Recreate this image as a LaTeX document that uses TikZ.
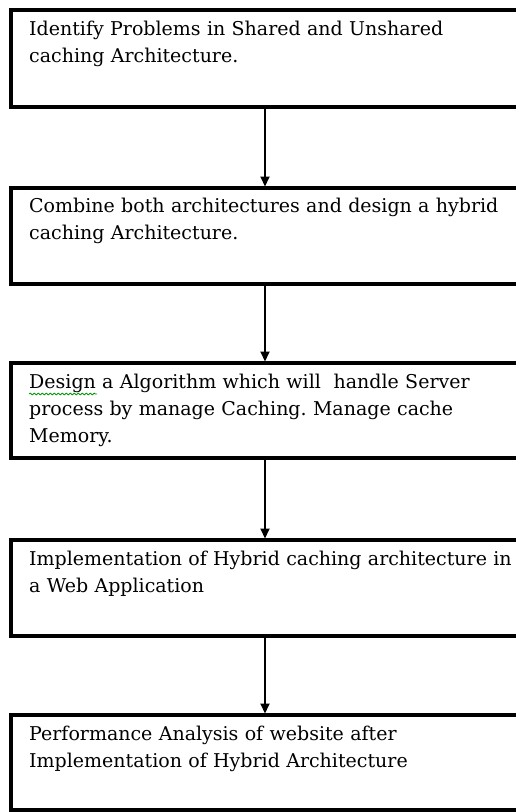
\documentclass[tikz,border=0pt]{standalone}
\usepackage{fontspec}
\setmainfont{DejaVu Serif}
\usetikzlibrary{arrows.meta,decorations.pathmorphing}
\frenchspacing

\tikzset{
  stepbox/.style={draw, line width=3.5pt, outer sep=0pt, inner sep=0pt,
    minimum width=508pt, minimum height=#1, anchor=north west},
  steptext/.style={anchor=base west, text width=530pt, align=left, inner sep=0pt,
    font=\fontsize{19}{27}\selectfont},
  flow/.style={-{Triangle[length=10pt,width=9pt]}, line width=1.8pt, shorten >=1.5pt},
  spellmark/.style={draw=green!60!black, line width=0.8pt,
    decorate, decoration={snake, amplitude=0.9pt, segment length=4pt}}
}

\begin{document}
\begin{tikzpicture}[x=1pt, y=-1pt]
  \useasboundingbox (0,0) rectangle (516,812);
  \clip (0,0) rectangle (516,812);
  % the five steps, one box each
  \node[stepbox=97pt] (Identify) at (11,10) {};
  \node[stepbox=96pt] (Combine) at (11,188) {};
  \node[stepbox=95pt] (Design) at (11,363) {};
  \node[stepbox=96pt] (Implement) at (11,540) {};
  \node[stepbox=95pt] (Analyse) at (11,715) {};
  % texts sit 18pt in and 25pt down from each box corner
  \node[steptext] (Identify Text) at ([shift={(18,25)}]Identify.north west)
    {Identify Problems in Shared and Unshared\\caching Architecture.};
  \node[steptext] (Combine Text) at ([shift={(18,24)}]Combine.north west)
    {Combine both architectures and design a hybrid\\caching Architecture.};
  \node[steptext] (Design Text) at ([shift={(18,25)}]Design.north west)
    {Design a Algorithm which will\ \ handle Server\\process by manage Caching. Manage cache\\Memory.};
  \node[steptext] (Implement Text) at ([shift={(18,25)}]Implement.north west)
    {Implementation of Hybrid caching architecture in\\a Web Application};
  \node[steptext] (Analyse Text) at ([shift={(18,25)}]Analyse.north west)
    {Performance Analysis of website after\\Implementation of Hybrid Architecture};
  \draw[spellmark] ([yshift=-6pt]Design Text.base west) -- ++(68,0);
  % arrows between the steps
  \draw[flow] (Identify) -- (Combine);
  \draw[flow] (Combine) -- (Design);
  \draw[flow] (Design) -- (Implement);
  \draw[flow] (Implement) -- (Analyse);
\end{tikzpicture}
\end{document}
